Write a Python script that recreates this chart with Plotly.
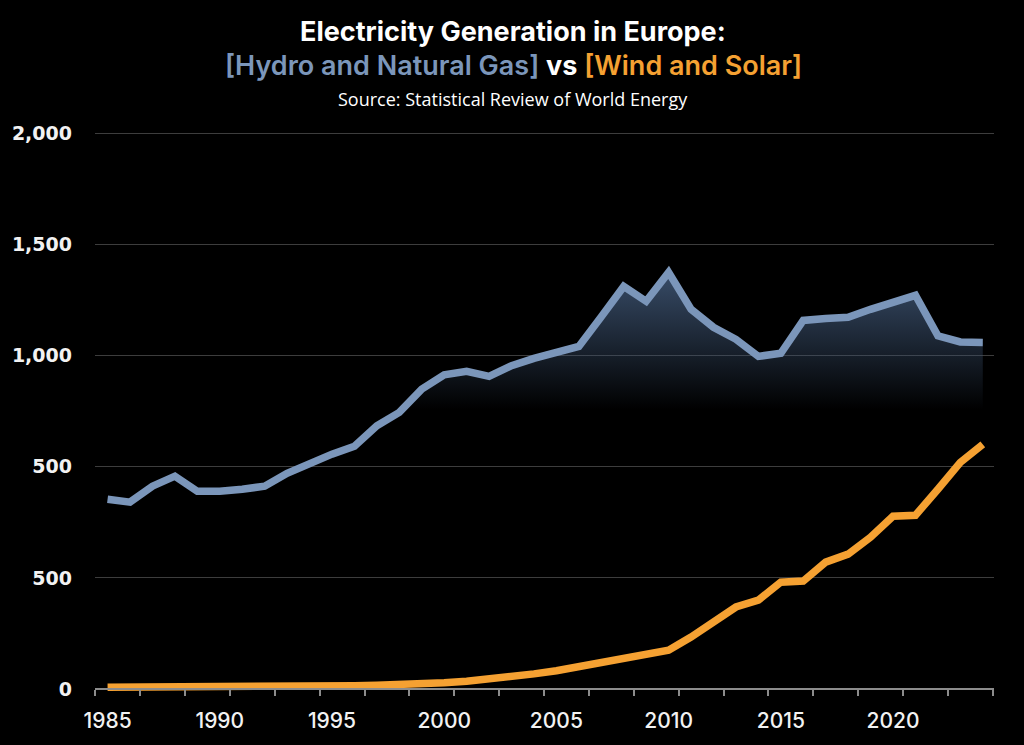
import plotly.graph_objects as go

years = list(range(1985, 2025))
hydro_gas = [854, 841, 913, 958, 890, 890, 899, 913, 971, 1016,
             1057, 1093, 1185, 1245, 1350, 1414, 1430, 1407, 1455, 1488,
             1513, 1542, 1675, 1812, 1745, 1875, 1709, 1628, 1574, 1497,
             1511, 1659, 1668, 1673, 1709, 1740, 1772, 1590, 1562, 1560]
wind_solar = [8, 8, 8, 9, 9, 10, 10, 11, 12, 13,
              14, 15, 17, 19, 22, 28, 35, 44, 55, 68,
              82, 100, 118, 132, 150, 175, 234, 306, 369, 400,
              481, 486, 571, 607, 683, 778, 782, 899, 1020, 1101]
y_tick_vals = [0, 500, 1000, 1500, 2000, 2500]
y_tick_text = ["0", "500", "500", "1,000", "1,500", "2,000"]
x_tick_vals = [1985, 1990, 1995, 2000, 2005, 2010, 2015, 2020]
x_tick_text = [str(v) for v in x_tick_vals]

BLUE = "#7b96ba"
ORANGE = "#f5a132"

L, R, T, B = 93, 30, 128.4, 45
TITLE_X = (512 - L) / (1024 - L - R)

fig = go.Figure()
fig.add_trace(go.Scatter(
    x=years, y=hydro_gas, mode="lines",
    line=dict(color=BLUE, width=7.5),
    fill="tozeroy",
    fillgradient=dict(type="vertical",
                      colorscale=[[0, "rgba(60,82,112,0)"], [1, "rgba(60,82,112,0.95)"]],
                      start=1260, stop=1890),
    hoverinfo="skip", showlegend=False,
))
fig.add_trace(go.Scatter(
    x=years, y=wind_solar, mode="lines",
    line=dict(color=ORANGE, width=7.5),
    hoverinfo="skip", showlegend=False,
))

fig.update_layout(
    width=1024, height=745,
    paper_bgcolor="black", plot_bgcolor="black",
    margin=dict(l=L, r=R, t=T, b=B),
    showlegend=False,
    xaxis=dict(
        range=[1984.44, 2024.5],
        tickmode="array", tickvals=x_tick_vals, ticktext=x_tick_text,
        ticks="", showgrid=False, zeroline=False,
        showline=True, linecolor="#8c8c8c", linewidth=1.5,
        anchor="free", position=0.0175,
        tickfont=dict(family="Inter", size=21, color="#f2f2f2", weight=500),
        ticklabelstandoff=13,
        minor=dict(tickmode="linear", tick0=1984.45, dtick=2, ticks="outside",
                   ticklen=6, tickwidth=1.5, tickcolor="#8c8c8c", showgrid=False),
    ),
    yaxis=dict(
        range=[-45, 2525],
        tickmode="array", tickvals=y_tick_vals, ticktext=y_tick_text,
        ticks="", showgrid=True, gridcolor="#3d3d3d", gridwidth=1,
        zeroline=False, showline=False,
        tickfont=dict(family="DejaVu Sans", size=19, color="#f2f2f2", weight="bold"),
        ticklabelstandoff=22,
    ),
)

fig.add_annotation(
    text="<b>Electricity Generation in Europe:</b>",
    xref="paper", yref="paper", x=TITLE_X, xanchor="center",
    y=1, yanchor="middle", yshift=T - 32,
    showarrow=False,
    font=dict(family="Inter", size=27, color="white"),
)
fig.add_annotation(
    text=(f"<span style='color:{BLUE}'>[Hydro and Natural Gas]</span> "
          f"<b>vs</b> <span style='color:{ORANGE}'>[Wind and Solar]</span>"),
    xref="paper", yref="paper", x=TITLE_X, xanchor="center",
    y=1, yanchor="middle", yshift=T - 66,
    showarrow=False,
    font=dict(family="Inter", size=27, color="white", weight=600),
)
fig.add_annotation(
    text="Source: Statistical Review of World Energy",
    xref="paper", yref="paper", x=TITLE_X, xanchor="center",
    y=1, yanchor="middle", yshift=T - 99,
    showarrow=False,
    font=dict(family="Open Sans", size=18, color="white"),
)

fig.write_html("out.html")
